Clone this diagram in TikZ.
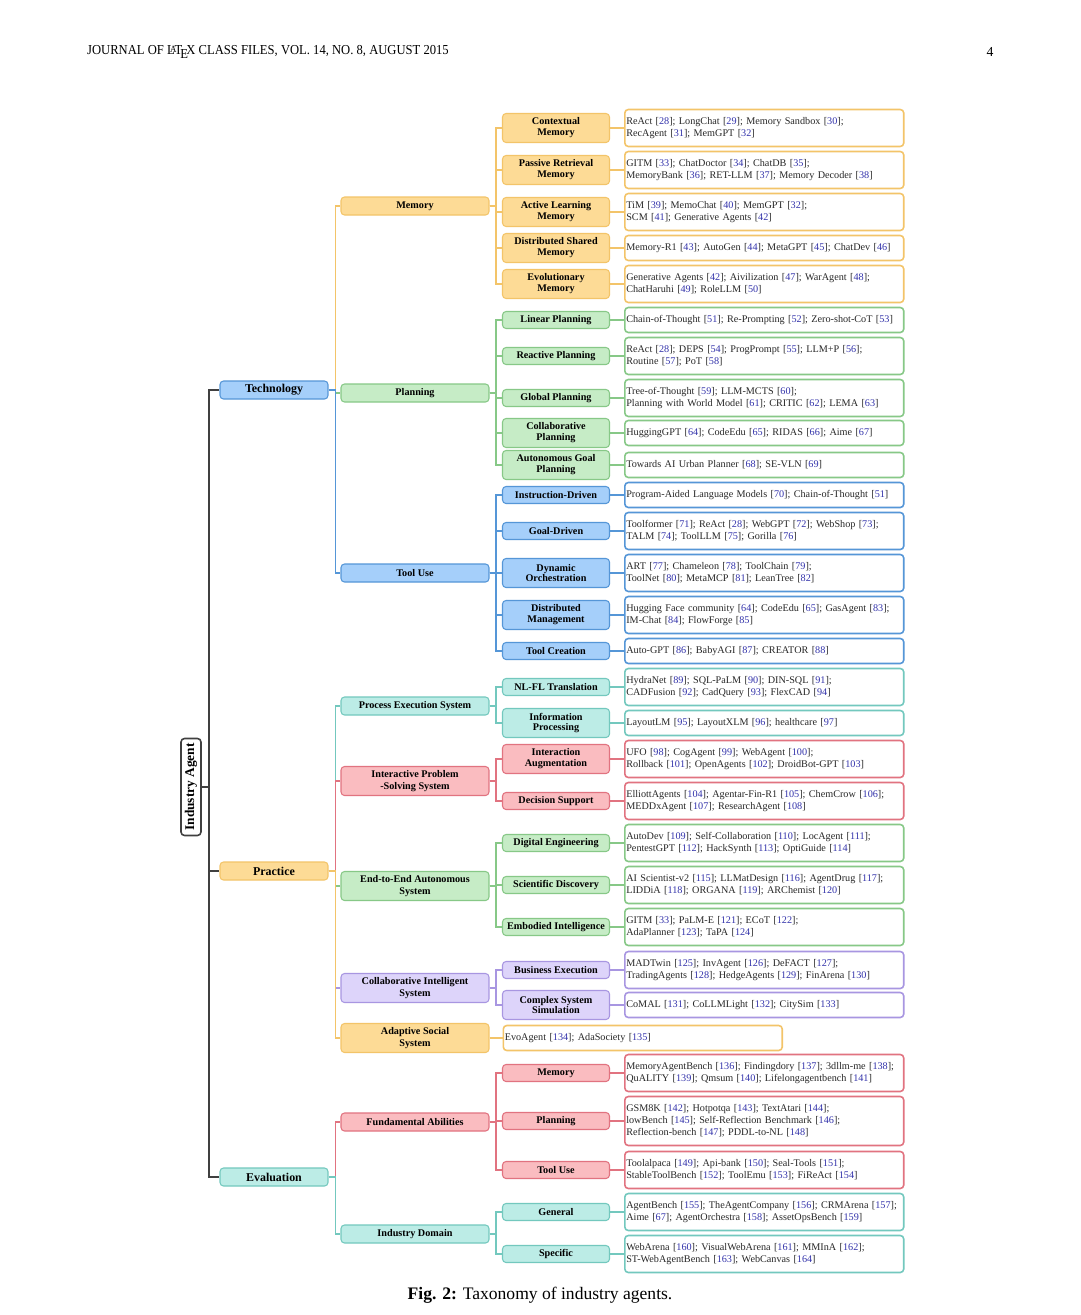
\documentclass[tikz,border=0pt]{standalone}
\usepackage{fontspec}
\setmainfont{Liberation Serif}
\usepackage{xcolor}
\usepackage{tikz}
\usetikzlibrary{positioning}
\definecolor{orgF}{RGB}{253,219,150}
\definecolor{orgD}{RGB}{243,196,105}
\definecolor{grnF}{RGB}{198,236,198}
\definecolor{grnD}{RGB}{135,200,135}
\definecolor{bluF}{RGB}{165,207,250}
\definecolor{bluD}{RGB}{85,150,215}
\definecolor{tealF}{RGB}{188,236,230}
\definecolor{tealD}{RGB}{115,200,190}
\definecolor{redF}{RGB}{250,188,192}
\definecolor{redD}{RGB}{225,115,128}
\definecolor{purF}{RGB}{221,212,250}
\definecolor{purD}{RGB}{168,150,225}
\definecolor{citeblue}{RGB}{50,50,170}
\definecolor{inkgray}{RGB}{40,40,40}
\newcommand{\rf}[1]{[\textcolor{citeblue}{#1}]}

\begin{document}
\begin{tikzpicture}[
    x=0.02cm, y=-0.02cm,
    rootbox/.style={rectangle, draw=black!75, fill=white, line width=0.9pt, rounded corners=2pt, minimum width=0.4cm, minimum height=1.94cm, inner sep=0pt, font=\bfseries\fontsize{7.6}{8}\selectfont},
    lvone/.style={rectangle, rounded corners=2pt, line width=0.6pt, minimum width=2.16cm, minimum height=0.36cm, inner sep=1pt, font=\bfseries\fontsize{6.8}{7.5}\selectfont},
    lvtwo/.style={rectangle, rounded corners=2pt, line width=0.6pt, minimum width=2.96cm, minimum height=0.36cm, inner sep=1pt, align=center, font=\bfseries\fontsize{5.8}{6.8}\selectfont},
    lvthree/.style={rectangle, rounded corners=2pt, line width=0.6pt, minimum width=2.14cm, minimum height=0.34cm, inner sep=1pt, align=center, font=\bfseries\fontsize{5.8}{6.2}\selectfont},
    twoln/.style={minimum height=0.58cm},
    leaf/.style={rectangle, fill=white, rounded corners=2pt, line width=0.9pt, text width=5.52cm, inner xsep=0.03cm, inner ysep=1pt, minimum height=0.74cm, align=left, text=inkgray, font=\fontsize{5.8}{6.8}\selectfont},
    leafone/.style={minimum height=0.5cm},
    leafthree/.style={minimum height=0.98cm},
    orgbox/.style={draw=orgD, fill=orgF},
    grnbox/.style={draw=grnD, fill=grnF},
    blubox/.style={draw=bluD, fill=bluF},
    tealbox/.style={draw=tealD, fill=tealF},
    redbox/.style={draw=redD, fill=redF},
    purbox/.style={draw=purD, fill=purF},
    trunk/.style={draw=black!75, line width=0.9pt},
    link/.style={line width=0.8pt}
]
    \fill [white] (0,0) rectangle (1080,1315);
    \useasboundingbox (0,0) rectangle (1080,1315);

    % Page header and caption
    \node (head) [anchor=west, font=\fontsize{7.8}{9}\selectfont] at (81,52) {\scalebox{0.92}[1]{JOURNAL OF \LaTeX\ CLASS FILES, VOL. 14, NO. 8, AUGUST 2015}};
    \node (pnum) [font=\fontsize{7.8}{9}\selectfont] at (990,52) {4};
    \node (cap) [font=\fontsize{10}{12}\selectfont] at (540,1295) {\textbf{Fig. 2:} Taxonomy of industry agents.};

    % Nodes
    \node (root) [rootbox] at (191,787) {\rotatebox{90}{Industry Agent}};

    \node (tech) [lvone, blubox] at (274,390) {Technology};
    \node (prac) [lvone, orgbox] at (274,871) {Practice};
    \node (eval) [lvone, tealbox] at (274,1177) {Evaluation};

    \node (mem) [lvtwo, orgbox] at (415,206) {Memory};
    \node (plan) [lvtwo, grnbox] at (415,393) {Planning};
    \node (tool) [lvtwo, blubox] at (415,573) {Tool Use};
    \node (pes) [lvtwo, tealbox] at (415,706) {Process Execution System};
    \node (ipss) [lvtwo, redbox, twoln] at (415,781) {Interactive Problem\\-Solving System};
    \node (e2e) [lvtwo, grnbox, twoln] at (415,886) {End-to-End Autonomous\\System};
    \node (cis) [lvtwo, purbox, twoln] at (415,988) {Collaborative Intelligent\\System};
    \node (ass) [lvtwo, orgbox, twoln] at (415,1038) {Adaptive Social\\System};
    \node (fab) [lvtwo, redbox] at (415,1122) {Fundamental Abilities};
    \node (idom) [lvtwo, tealbox] at (415,1234) {Industry Domain};

    % Memory
    \node (ctxm) [lvthree, orgbox, twoln] at (556,128) {Contextual\\Memory};
    \node (prm) [lvthree, orgbox, twoln] at (556,170) {Passive Retrieval\\Memory};
    \node (alm) [lvthree, orgbox, twoln] at (556,212) {Active Learning\\Memory};
    \node (dsm) [lvthree, orgbox, twoln] at (556,248) {Distributed Shared\\Memory};
    \node (evm) [lvthree, orgbox, twoln] at (556,284) {Evolutionary\\Memory};
    \node (ctxmL) [leaf, draw=orgD, right=0.28cm of ctxm] {ReAct \rf{28}; LongChat \rf{29}; Memory Sandbox \rf{30};\\RecAgent \rf{31}; MemGPT \rf{32}};
    \node (prmL) [leaf, draw=orgD, right=0.28cm of prm] {GITM \rf{33}; ChatDoctor \rf{34}; ChatDB \rf{35};\\MemoryBank \rf{36}; RET-LLM \rf{37}; Memory Decoder \rf{38}};
    \node (almL) [leaf, draw=orgD, right=0.28cm of alm] {TiM \rf{39}; MemoChat \rf{40}; MemGPT \rf{32};\\SCM \rf{41}; Generative Agents \rf{42}};
    \node (dsmL) [leaf, leafone, draw=orgD, right=0.28cm of dsm] {Memory-R1 \rf{43}; AutoGen \rf{44}; MetaGPT \rf{45}; ChatDev \rf{46}};
    \node (evmL) [leaf, draw=orgD, right=0.28cm of evm] {Generative Agents \rf{42}; Aivilization \rf{47}; WarAgent \rf{48};\\ChatHaruhi \rf{49}; RoleLLM \rf{50}};

    % Planning
    \node (linp) [lvthree, grnbox] at (556,320) {Linear Planning};
    \node (reap) [lvthree, grnbox] at (556,356) {Reactive Planning};
    \node (glop) [lvthree, grnbox] at (556,398) {Global Planning};
    \node (colp) [lvthree, grnbox, twoln] at (556,433) {Collaborative\\Planning};
    \node (autp) [lvthree, grnbox, twoln] at (556,465) {Autonomous Goal\\Planning};
    \node (linpL) [leaf, leafone, draw=grnD, right=0.28cm of linp] {Chain-of-Thought \rf{51}; Re-Prompting \rf{52}; Zero-shot-CoT \rf{53}};
    \node (reapL) [leaf, draw=grnD, right=0.28cm of reap] {ReAct \rf{28}; DEPS \rf{54}; ProgPrompt \rf{55}; LLM+P \rf{56};\\Routine \rf{57}; PoT \rf{58}};
    \node (glopL) [leaf, draw=grnD, right=0.28cm of glop] {Tree-of-Thought \rf{59}; LLM-MCTS \rf{60};\\Planning with World Model \rf{61}; CRITIC \rf{62}; LEMA \rf{63}};
    \node (colpL) [leaf, leafone, draw=grnD, right=0.28cm of colp] {HuggingGPT \rf{64}; CodeEdu \rf{65}; RIDAS \rf{66}; Aime \rf{67}};
    \node (autpL) [leaf, leafone, draw=grnD, right=0.28cm of autp] {Towards AI Urban Planner \rf{68}; SE-VLN \rf{69}};

    % Tool Use
    \node (insd) [lvthree, blubox] at (556,495) {Instruction-Driven};
    \node (goad) [lvthree, blubox] at (556,531) {Goal-Driven};
    \node (dyno) [lvthree, blubox, twoln] at (556,573) {Dynamic\\Orchestration};
    \node (dism) [lvthree, blubox, twoln] at (556,615) {Distributed\\Management};
    \node (tcre) [lvthree, blubox] at (556,651) {Tool Creation};
    \node (insdL) [leaf, leafone, draw=bluD, right=0.28cm of insd] {Program-Aided Language Models \rf{70}; Chain-of-Thought \rf{51}};
    \node (goadL) [leaf, draw=bluD, right=0.28cm of goad] {Toolformer \rf{71}; ReAct \rf{28}; WebGPT \rf{72}; WebShop \rf{73};\\TALM \rf{74}; ToolLLM \rf{75}; Gorilla \rf{76}};
    \node (dynoL) [leaf, draw=bluD, right=0.28cm of dyno] {ART \rf{77}; Chameleon \rf{78}; ToolChain \rf{79};\\ToolNet \rf{80}; MetaMCP \rf{81}; LeanTree \rf{82}};
    \node (dismL) [leaf, draw=bluD, right=0.28cm of dism] {Hugging Face community \rf{64}; CodeEdu \rf{65}; GasAgent \rf{83};\\IM-Chat \rf{84}; FlowForge \rf{85}};
    \node (tcreL) [leaf, leafone, draw=bluD, right=0.28cm of tcre] {Auto-GPT \rf{86}; BabyAGI \rf{87}; CREATOR \rf{88}};

    % Process Execution / Interactive Problem-Solving
    \node (nlfl) [lvthree, tealbox] at (556,687) {NL-FL Translation};
    \node (infp) [lvthree, tealbox, twoln] at (556,723) {Information\\Processing};
    \node (inta) [lvthree, redbox, twoln] at (556,759) {Interaction\\Augmentation};
    \node (decs) [lvthree, redbox] at (556,801) {Decision Support};
    \node (nlflL) [leaf, draw=tealD, right=0.28cm of nlfl] {HydraNet \rf{89}; SQL-PaLM \rf{90}; DIN-SQL \rf{91};\\CADFusion \rf{92}; CadQuery \rf{93}; FlexCAD \rf{94}};
    \node (infpL) [leaf, leafone, draw=tealD, right=0.28cm of infp] {LayoutLM \rf{95}; LayoutXLM \rf{96}; healthcare \rf{97}};
    \node (intaL) [leaf, draw=redD, right=0.28cm of inta] {UFO \rf{98}; CogAgent \rf{99}; WebAgent \rf{100};\\Rollback \rf{101}; OpenAgents \rf{102}; DroidBot-GPT \rf{103}};
    \node (decsL) [leaf, draw=redD, right=0.28cm of decs] {ElliottAgents \rf{104}; Agentar-Fin-R1 \rf{105}; ChemCrow \rf{106};\\MEDDxAgent \rf{107}; ResearchAgent \rf{108}};

    % End-to-End / Collaborative / Adaptive
    \node (dige) [lvthree, grnbox] at (556,843) {Digital Engineering};
    \node (scid) [lvthree, grnbox] at (556,885) {Scientific Discovery};
    \node (embi) [lvthree, grnbox] at (556,927) {Embodied Intelligence};
    \node (buse) [lvthree, purbox] at (556,970) {Business Execution};
    \node (cssm) [lvthree, purbox, twoln] at (556,1005) {Complex System\\Simulation};
    \node (digeL) [leaf, draw=grnD, right=0.28cm of dige] {AutoDev \rf{109}; Self-Collaboration \rf{110}; LocAgent \rf{111};\\PentestGPT \rf{112}; HackSynth \rf{113}; OptiGuide \rf{114}};
    \node (scidL) [leaf, draw=grnD, right=0.28cm of scid] {AI Scientist-v2 \rf{115}; LLMatDesign \rf{116}; AgentDrug \rf{117};\\LIDDiA \rf{118}; ORGANA \rf{119}; ARChemist \rf{120}};
    \node (embiL) [leaf, draw=grnD, right=0.28cm of embi] {GITM \rf{33}; PaLM-E \rf{121}; ECoT \rf{122};\\AdaPlanner \rf{123}; TaPA \rf{124}};
    \node (buseL) [leaf, draw=purD, right=0.28cm of buse] {MADTwin \rf{125}; InvAgent \rf{126}; DeFACT \rf{127};\\TradingAgents \rf{128}; HedgeAgents \rf{129}; FinArena \rf{130}};
    \node (cssmL) [leaf, leafone, draw=purD, right=0.28cm of cssm] {CoMAL \rf{131}; CoLLMLight \rf{132}; CitySim \rf{133}};
    \node (evoL) [leaf, leafone, draw=orgD, right=0.26cm of ass] {EvoAgent \rf{134}; AdaSociety \rf{135}};

    % Evaluation
    \node (fmem) [lvthree, redbox] at (556,1073) {Memory};
    \node (fpla) [lvthree, redbox] at (556,1121) {Planning};
    \node (ftoo) [lvthree, redbox] at (556,1170) {Tool Use};
    \node (gene) [lvthree, tealbox] at (556,1212) {General};
    \node (spec) [lvthree, tealbox] at (556,1254) {Specific};
    \node (fmemL) [leaf, draw=redD, right=0.28cm of fmem] {MemoryAgentBench \rf{136}; Findingdory \rf{137}; 3dllm-me \rf{138};\\QuALITY \rf{139}; Qmsum \rf{140}; Lifelongagentbench \rf{141}};
    \node (fplaL) [leaf, leafthree, draw=redD, right=0.28cm of fpla] {GSM8K \rf{142}; Hotpotqa \rf{143}; TextAtari \rf{144};\\lowBench \rf{145}; Self-Reflection Benchmark \rf{146};\\Reflection-bench \rf{147}; PDDL-to-NL \rf{148}};
    \node (ftooL) [leaf, draw=redD, right=0.28cm of ftoo] {Toolalpaca \rf{149}; Api-bank \rf{150}; Seal-Tools \rf{151};\\StableToolBench \rf{152}; ToolEmu \rf{153}; FiReAct \rf{154}};
    \node (geneL) [leaf, draw=tealD, right=0.28cm of gene] {AgentBench \rf{155}; TheAgentCompany \rf{156}; CRMArena \rf{157};\\Aime \rf{67}; AgentOrchestra \rf{158}; AssetOpsBench \rf{159}};
    \node (specL) [leaf, draw=tealD, right=0.28cm of spec] {WebArena \rf{160}; VisualWebArena \rf{161}; MMInA \rf{162};\\ST-WebAgentBench \rf{163}; WebCanvas \rf{164}};

    % Connections
    \draw [trunk] (root.east) -- ++(7,0) |- (tech.west);
    \draw [trunk] (root.east) -- ++(7,0) |- (prac.west);
    \draw [trunk] (root.east) -- ++(7,0) |- (eval.west);

    \draw [link, orgD] (tech.east) -- ++(7,0) |- (mem.west);
    \draw [link, grnD] (tech.east) -- ++(7,0) |- (plan.west);
    \draw [link, bluD] (tech.east) -- ++(7,0) |- (tool.west);
    \draw [link, tealD] (prac.east) -- ++(7,0) |- (pes.west);
    \draw [link, redD] (prac.east) -- ++(7,0) |- (ipss.west);
    \draw [link, grnD] (prac.east) -- ++(7,0) |- (e2e.west);
    \draw [link, purD] (prac.east) -- ++(7,0) |- (cis.west);
    \draw [link, orgD] (prac.east) -- ++(7,0) |- (ass.west);
    \draw [link, redD] (eval.east) -- ++(7,0) |- (fab.west);
    \draw [link, tealD] (eval.east) -- ++(7,0) |- (idom.west);

    \draw [link, orgD] (mem.east) -- ++(6.5,0) |- (ctxm.west);
    \draw [link, orgD] (mem.east) -- ++(6.5,0) |- (prm.west);
    \draw [link, orgD] (mem.east) -- ++(6.5,0) |- (alm.west);
    \draw [link, orgD] (mem.east) -- ++(6.5,0) |- (dsm.west);
    \draw [link, orgD] (mem.east) -- ++(6.5,0) |- (evm.west);
    \draw [link, grnD] (plan.east) -- ++(6.5,0) |- (linp.west);
    \draw [link, grnD] (plan.east) -- ++(6.5,0) |- (reap.west);
    \draw [link, grnD] (plan.east) -- ++(6.5,0) |- (glop.west);
    \draw [link, grnD] (plan.east) -- ++(6.5,0) |- (colp.west);
    \draw [link, grnD] (plan.east) -- ++(6.5,0) |- (autp.west);
    \draw [link, bluD] (tool.east) -- ++(6.5,0) |- (insd.west);
    \draw [link, bluD] (tool.east) -- ++(6.5,0) |- (goad.west);
    \draw [link, bluD] (tool.east) -- ++(6.5,0) |- (dyno.west);
    \draw [link, bluD] (tool.east) -- ++(6.5,0) |- (dism.west);
    \draw [link, bluD] (tool.east) -- ++(6.5,0) |- (tcre.west);
    \draw [link, tealD] (pes.east) -- ++(6.5,0) |- (nlfl.west);
    \draw [link, tealD] (pes.east) -- ++(6.5,0) |- (infp.west);
    \draw [link, redD] (ipss.east) -- ++(6.5,0) |- (inta.west);
    \draw [link, redD] (ipss.east) -- ++(6.5,0) |- (decs.west);
    \draw [link, grnD] (e2e.east) -- ++(6.5,0) |- (dige.west);
    \draw [link, grnD] (e2e.east) -- ++(6.5,0) |- (scid.west);
    \draw [link, grnD] (e2e.east) -- ++(6.5,0) |- (embi.west);
    \draw [link, purD] (cis.east) -- ++(6.5,0) |- (buse.west);
    \draw [link, purD] (cis.east) -- ++(6.5,0) |- (cssm.west);
    \draw [link, orgD] (ass) -- (evoL);
    \draw [link, redD] (fab.east) -- ++(6.5,0) |- (fmem.west);
    \draw [link, redD] (fab.east) -- ++(6.5,0) |- (fpla.west);
    \draw [link, redD] (fab.east) -- ++(6.5,0) |- (ftoo.west);
    \draw [link, tealD] (idom.east) -- ++(6.5,0) |- (gene.west);
    \draw [link, tealD] (idom.east) -- ++(6.5,0) |- (spec.west);

    \draw [link, orgD] (ctxm) -- (ctxmL);
    \draw [link, orgD] (prm) -- (prmL);
    \draw [link, orgD] (alm) -- (almL);
    \draw [link, orgD] (dsm) -- (dsmL);
    \draw [link, orgD] (evm) -- (evmL);
    \draw [link, grnD] (linp) -- (linpL);
    \draw [link, grnD] (reap) -- (reapL);
    \draw [link, grnD] (glop) -- (glopL);
    \draw [link, grnD] (colp) -- (colpL);
    \draw [link, grnD] (autp) -- (autpL);
    \draw [link, bluD] (insd) -- (insdL);
    \draw [link, bluD] (goad) -- (goadL);
    \draw [link, bluD] (dyno) -- (dynoL);
    \draw [link, bluD] (dism) -- (dismL);
    \draw [link, bluD] (tcre) -- (tcreL);
    \draw [link, tealD] (nlfl) -- (nlflL);
    \draw [link, tealD] (infp) -- (infpL);
    \draw [link, redD] (inta) -- (intaL);
    \draw [link, redD] (decs) -- (decsL);
    \draw [link, grnD] (dige) -- (digeL);
    \draw [link, grnD] (scid) -- (scidL);
    \draw [link, grnD] (embi) -- (embiL);
    \draw [link, purD] (buse) -- (buseL);
    \draw [link, purD] (cssm) -- (cssmL);
    \draw [link, redD] (fmem) -- (fmemL);
    \draw [link, redD] (fpla) -- (fplaL);
    \draw [link, redD] (ftoo) -- (ftooL);
    \draw [link, tealD] (gene) -- (geneL);
    \draw [link, tealD] (spec) -- (specL);
\end{tikzpicture}
\end{document}
